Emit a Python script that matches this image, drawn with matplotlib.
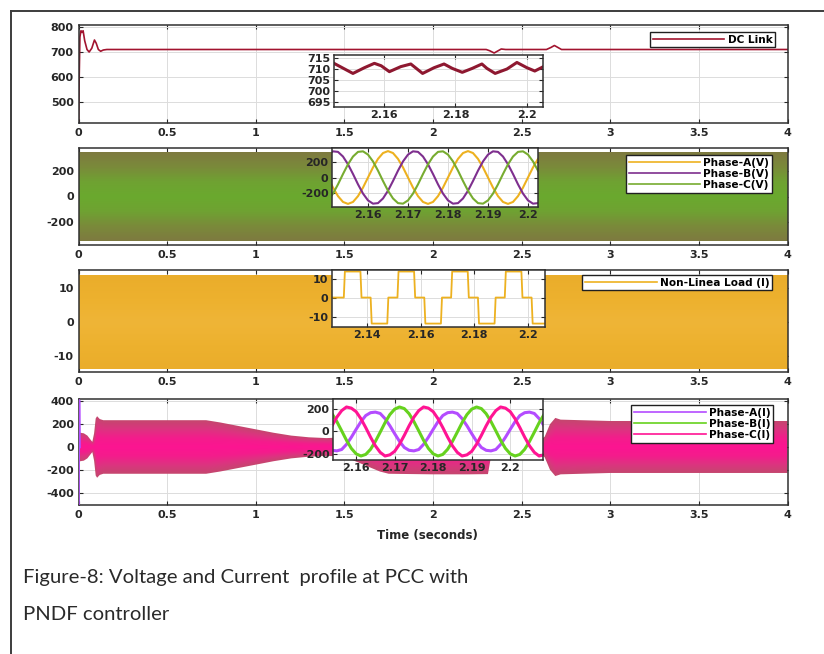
import numpy as np
import matplotlib.pyplot as plt
from matplotlib.lines import Line2D
from matplotlib.ticker import FuncFormatter
from matplotlib.colors import LinearSegmentedColormap

plt.rcParams['font.family'] = ['DejaVu Sans']
plt.rcParams['font.weight'] = 'bold'

W, H = 824, 654

# ---------------- DC link voltage ----------------
dc_t = [0.0, 0.004, 0.008, 0.014, 0.02, 0.026, 0.035, 0.048, 0.06, 0.075,
        0.09, 0.1, 0.112, 0.125, 0.14, 0.16, 1.0, 2.3, 2.32, 2.345,
        2.37, 2.385, 2.41, 2.64, 2.665, 2.685, 2.705, 2.725, 4.0]
dc_v = [415, 600, 760, 785, 778, 785, 745, 710, 700, 715,
        748, 735, 710, 703, 708, 710, 710, 710, 705, 696,
        706, 712, 710, 710, 718, 726, 718, 710, 710]

dcz_t = [2.146, 2.1513, 2.1545, 2.1573, 2.1592, 2.1615, 2.1647, 2.1675, 2.1708, 2.174, 2.1768,
         2.1791, 2.1819, 2.1847, 2.1874, 2.1888, 2.1911, 2.1944, 2.1972, 2.2, 2.2022, 2.2045]
dcz_v = [712.6, 708.0, 710.6, 712.6, 711.5, 708.8, 711.1, 712.3, 708.0, 710.6, 712.3,
         710.3, 708.5, 710.3, 712.3, 710.3, 708.0, 710.0, 713.0, 710.6, 709.1, 711.0]

# ---------------- PCC voltage ----------------
pv_t = [0.0, 4.0]
pv_amp = [345, 345]

pvz_t = np.linspace(2.150, 2.2025, 43)
pvz_a = [0, -130, -240, -315, -340, -315, -240, -130, 0, 130, 240, 315, 340, 315, 240, 130,
         0, -130, -240, -315, -340, -315, -240, -130, 0, 130, 240, 315, 340, 315, 240, 130,
         0, -130, -240, -315, -340, -315, -240, -130, 0, 130, 240]
pvz_b = [295, 337, 330, 270, 170, 45, -88, -207, -295, -337, -330, -270, -170, -45, 88, 207,
         295, 337, 330, 270, 170, 45, -88, -207, -295, -337, -330, -270, -170, -45, 88, 207,
         295, 337, 330, 270, 170, 45, -88, -207, -295, -337, -330]
pvz_c = [-295, -207, -88, 45, 170, 270, 330, 337, 295, 207, 88, -45, -170, -270, -330, -337,
         -295, -207, -88, 45, 170, 270, 330, 337, 295, 207, 88, -45, -170, -270, -330, -337,
         -295, -207, -88, 45, 170, 270, 330, 337, 295, 207, 88]

# ---------------- Non-linear load current ----------------
il_t = [0.0, 4.0]
il_amp = [13.7, 13.7]

ilz_t = [2.127, 2.1314, 2.1318, 2.1376, 2.1380, 2.1414, 2.1418, 2.1476, 2.1480, 2.1514, 2.1518,
         2.1576, 2.1580, 2.1614, 2.1618, 2.1676, 2.1680, 2.1714, 2.1718, 2.1776, 2.1780, 2.1814,
         2.1818, 2.1876, 2.1880, 2.1914, 2.1918, 2.1976, 2.1980, 2.2014, 2.2018, 2.2070]
ilz_v = [0, 0, 13.7, 13.7, 0, 0, -13.7, -13.7, 0, 0, 13.7,
         13.7, 0, 0, -13.7, -13.7, 0, 0, 13.7, 13.7, 0, 0,
         -13.7, -13.7, 0, 0, 13.7, 13.7, 0, 0, -13.7, -13.7]

# ---------------- Source currents ----------------
is_t = [0.0, 0.01, 0.03, 0.05, 0.065, 0.078, 0.088, 0.097, 0.105, 0.12,
        0.14, 0.4, 0.72, 0.8, 0.9, 1.0, 1.1, 1.2, 1.3, 1.4,
        1.5, 1.6, 1.7, 1.75, 1.9, 2.0, 2.2, 2.31, 2.33, 2.4,
        2.5, 2.6, 2.63, 2.66, 2.69, 2.72, 3.0, 3.5, 4.0]
is_amp = [130, 125, 120, 100, 70, 45, 120, 250, 270, 245,
          235, 235, 235, 215, 185, 155, 125, 100, 85, 78,
          85, 150, 215, 235, 238, 240, 240, 238, 60, 50,
          50, 55, 90, 200, 255, 240, 228, 228, 228]
spike_t = [0.0, 0.003, 0.006]
spike_v = [-510, 410, 0]

isz_t = np.linspace(2.1525, 2.21, 47)
isz_a = [-140, -165, -170, -158, -113, -51, 19, 86, 140, 165, 170, 158, 113, 51, -19, -86,
         -140, -165, -170, -158, -113, -51, 19, 86, 140, 165, 170, 158, 113, 51, -19, -86,
         -140, -165, -170, -158, -113, -51, 19, 86, 140, 165, 170, 158, 113, 51, -19]
isz_b = [201, 156, 87, 6, -77, -148, -196, -215, -201, -156, -87, -6, 77, 148, 196, 215,
         201, 156, 87, 6, -77, -148, -196, -215, -201, -156, -87, -6, 77, 148, 196, 215,
         201, 156, 87, 6, -77, -148, -196, -215, -201, -156, -87, -6, 77, 148, 196]
isz_c = [-34, 50, 126, 183, 215, 205, 174, 112, 34, -50, -126, -183, -215, -205, -174, -112,
         -34, 50, 126, 183, 215, 205, 174, 112, 34, -50, -126, -183, -215, -205, -174, -112,
         -34, 50, 126, 183, 215, 205, 174, 112, 34, -50, -126, -183, -215, -205, -174]

YEL, PUR, GRN = '#EDB120', '#7E2F8E', '#77AC30'
IA, IB, IC = '#B44CFF', '#66D21E', '#FF1493'
DCC = '#A2142F'

fig = plt.figure(figsize=(W / 100, H / 100), dpi=100)
fmt = FuncFormatter(lambda v, p: f'{v:g}')


def px_axes(l, t, r, b):
    return fig.add_axes([l / W, 1 - b / H, (r - l) / W, (b - t) / H])


def style(ax, xt, yt, xl, yl, pad=3.5, fs=8):
    ax.set_xlim(*xl)
    ax.set_ylim(*yl)
    ax.set_xticks(xt)
    ax.set_yticks(yt)
    ax.xaxis.set_major_formatter(fmt)
    ax.yaxis.set_major_formatter(fmt)
    ax.tick_params(direction='in', top=True, right=True, length=3, width=0.8,
                   labelsize=fs, pad=pad, colors='#262626')
    ax.grid(True, color='#dcdcdc', lw=0.7)
    ax.set_axisbelow(True)
    for s in ax.spines.values():
        s.set_color('#303030')
        s.set_linewidth(1.1)


def band(ax, t, amp, colors):
    # dense waveform seen as a filled envelope, shaded from centre to edge
    t = np.asarray(t, float)
    amp = np.asarray(amp, float)
    poly = ax.fill_between(t, -amp, amp, color='none', lw=0)
    top = amp.max()
    tx = np.linspace(t[0], t[-1], 900)
    yy = np.linspace(-top, top, 240)
    env = np.interp(tx, t, amp)
    shade = np.clip(np.abs(yy)[:, None] / env[None, :], 0, 1)
    cmap = LinearSegmentedColormap.from_list('band', colors)
    im = ax.imshow(shade, extent=[t[0], t[-1], -top, top], origin='lower', aspect='auto',
                   cmap=cmap, vmin=0, vmax=1, interpolation='bilinear', zorder=1)
    im.set_clip_path(poly.get_paths()[0], transform=ax.transData)


def legend(ax, handles, labels, right, top):
    lg = ax.legend(handles, labels, loc='upper right',
                   bbox_to_anchor=(right / W, 1 - top / H), bbox_transform=fig.transFigure,
                   fontsize=7.6, handlelength=6.8, handletextpad=0.3, labelspacing=0.12,
                   borderpad=0.25, fancybox=False, framealpha=1, edgecolor='#202020',
                   borderaxespad=0)
    lg.get_frame().set_linewidth(1.0)


main_x = np.arange(0, 4.01, 0.5)
L, R = 78.5, 787.5

# panel 1 : DC link
ax1 = px_axes(L, 25, R, 123)
ax1.plot(dc_t, dc_v, color=DCC, lw=1.2)
style(ax1, main_x, [500, 600, 700, 800], (0, 4), (416, 808))
legend(ax1, [Line2D([], [], color=DCC, lw=1.2)], ['DC Link'], 775, 32)

in1 = px_axes(334, 55, 543, 107)
in1.plot(dcz_t, dcz_v, color='#8E1830', lw=2.2)
style(in1, [2.16, 2.18, 2.2], [695, 700, 705, 710, 715], (2.146, 2.2045), (692.7, 716.4), pad=2.5)

# panel 2 : PCC voltage
ax2 = px_axes(L, 148, R, 245)
band(ax2, pv_t, pv_amp, ['#6aa92e', '#6fa232', '#7a8a3a', '#7e7a40'])
style(ax2, main_x, [-200, 0, 200], (0, 4), (-380, 380))
legend(ax2, [Line2D([], [], color=c, lw=1.2) for c in (YEL, PUR, GRN)],
       ['Phase-A(V)', 'Phase-B(V)', 'Phase-C(V)'], 772, 155)

in2 = px_axes(332, 148, 538, 207)
in2.plot(pvz_t, pvz_a, color=YEL, lw=1.5)
in2.plot(pvz_t, pvz_b, color=PUR, lw=1.5)
in2.plot(pvz_t, pvz_c, color=GRN, lw=1.5)
style(in2, [2.16, 2.17, 2.18, 2.19, 2.2], [-200, 0, 200], (2.151, 2.2025), (-380, 380), pad=2.5)

# panel 3 : load current
ax3 = px_axes(L, 270, R, 372)
band(ax3, il_t, il_amp, ['#efb537', '#edb12e', '#eaad2b'])
style(ax3, main_x, [-10, 0, 10], (0, 4), (-14.6, 15.2))
legend(ax3, [Line2D([], [], color=YEL, lw=1.2)], ['Non-Linea Load (I)'], 772, 275)

in3 = px_axes(332, 270, 545, 327)
in3.plot(ilz_t, ilz_v, color=YEL, lw=1.3)
style(in3, [2.14, 2.16, 2.18, 2.2], [-10, 0, 10], (2.127, 2.2064), (-15.5, 14.5), pad=2.5)

# panel 4 : source currents
ax4 = px_axes(L, 399, R, 505)
band(ax4, is_t, is_amp, ['#fc1591', '#f41c8c', '#dc3480', '#c4476e'])
ax4.plot(spike_t, spike_v, color=IA, lw=1.8, zorder=3)
style(ax4, main_x, [-400, -200, 0, 200, 400], (0, 4), (-509, 421))
legend(ax4, [Line2D([], [], color=c, lw=1.2) for c in (IA, IB, IC)],
       ['Phase-A(I)', 'Phase-B(I)', 'Phase-C(I)'], 773, 405)

in4 = px_axes(333, 399, 543, 460)
in4.plot(isz_t, isz_a, color=IA, lw=2.2)
in4.plot(isz_t, isz_b, color=IB, lw=2.2)
in4.plot(isz_t, isz_c, color=IC, lw=2.2)
style(in4, [2.16, 2.17, 2.18, 2.19, 2.2], [-200, 0, 200], (2.154, 2.2085), (-250, 285), pad=2.5)

fig.text(427 / W, 1 - 535 / H, 'Time (seconds)', ha='center', va='center',
         fontsize=8.5, color='#262626')

# caption and page frame
fig.text(23 / W, 1 - 578 / H, 'Figure-8: Voltage and Current  profile at PCC with',
         family='Lato', fontweight='normal', fontsize=14.6, color='#2a2a2a', va='center')
fig.text(23 / W, 1 - 614 / H, 'PNDF controller',
         family='Lato', fontweight='normal', fontsize=14.6, color='#2a2a2a', va='center')
fig.add_artist(Line2D([11 / W, 11 / W], [0, 1 - 11 / H], color='#3c3c3c', lw=1.4,
                      transform=fig.transFigure))
fig.add_artist(Line2D([11 / W, 1], [1 - 11 / H, 1 - 11 / H], color='#3c3c3c', lw=1.4,
                      transform=fig.transFigure))

fig.savefig('out.png', dpi=100)
